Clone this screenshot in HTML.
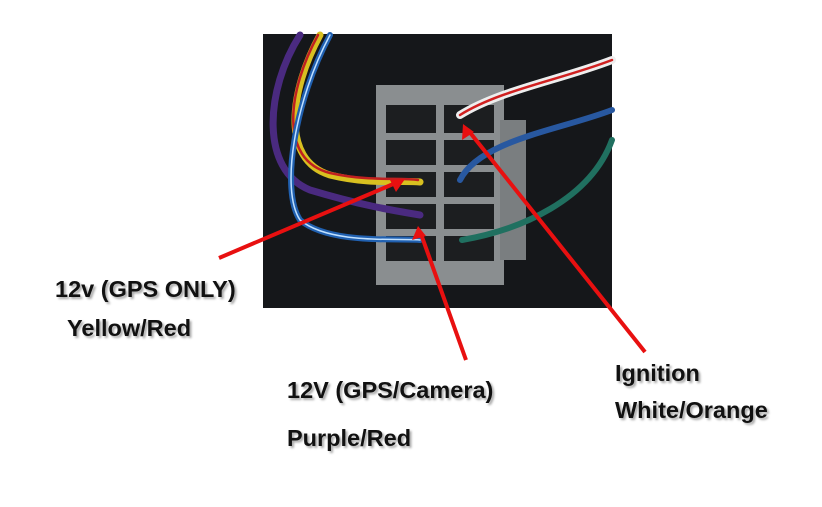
<!DOCTYPE html>
<html><head><style>
body{margin:0;width:822px;height:507px;background:#fff;position:relative;overflow:hidden;font-family:"Liberation Sans",sans-serif}
.t{position:absolute;font-weight:bold;font-size:23.5px;line-height:24px;color:#111;text-shadow:2px 2px 2px #aaa;white-space:nowrap}
</style></head><body>
<svg width="822" height="507" style="position:absolute;left:0;top:0">
<rect x="263" y="34" width="349" height="274" fill="#101214"/>
<rect x="263" y="34" width="349" height="274" fill="#1a1c20" opacity=".5"/>
<rect x="376" y="85" width="128" height="200" fill="#8a8e90"/>
<rect x="500" y="120" width="26" height="140" fill="#7a7e80"/>
<g fill="#1c1e20">
<rect x="386" y="105" width="50" height="28"/><rect x="444" y="105" width="50" height="28"/>
<rect x="386" y="140" width="50" height="25"/><rect x="444" y="140" width="50" height="25"/>
<rect x="386" y="172" width="50" height="25"/><rect x="444" y="172" width="50" height="25"/>
<rect x="386" y="204" width="50" height="25"/><rect x="444" y="204" width="50" height="25"/>
<rect x="386" y="236" width="50" height="25"/><rect x="444" y="236" width="50" height="25"/>
</g>
<g fill="none" stroke-linecap="round">
<path d="M320 35 C290 90 280 160 330 175 C370 185 400 180 420 182" stroke="#d8c020" stroke-width="7"/>
<path d="M318 35 C288 90 278 160 330 173 C370 182 400 177 418 180" stroke="#c02020" stroke-width="2.5"/>
<path d="M300 35 C265 90 260 170 310 190 C360 205 390 210 420 215" stroke="#4a2a80" stroke-width="7"/>
<path d="M330 35 C295 100 280 190 300 220 C330 245 400 238 420 240" stroke="#2060b0" stroke-width="6"/>
<path d="M330 35 C295 100 280 190 300 220 C330 245 400 238 420 240" stroke="#c0e0ff" stroke-width="1.5"/>
<path d="M612 60 C560 80 500 90 460 115" stroke="#eee" stroke-width="8"/>
<path d="M612 60 C560 80 500 90 460 115" stroke="#d02020" stroke-width="2.5"/>
<path d="M612 110 C560 130 480 140 460 180" stroke="#2858a0" stroke-width="6"/>
<path d="M612 140 C590 200 520 230 462 240" stroke="#207060" stroke-width="6"/>
</g>
<g stroke="#e81010" stroke-width="4" fill="#e81010">
<line x1="219" y1="258" x2="398" y2="182"/>
<line x1="466" y1="360" x2="421" y2="234"/>
<line x1="645" y1="352" x2="468" y2="130"/>
</g>
<polygon points="405,179 390,180 396,192" fill="#e81010"/>
<polygon points="418,226 412,240 426,236" fill="#e81010"/>
<polygon points="463,124 462,140 474,132" fill="#e81010"/>
</svg>
<div class="t" style="left:55px;top:277px">12v (GPS ONLY)</div>
<div class="t" style="left:67px;top:316px">Yellow/Red</div>
<div class="t" style="left:287px;top:378px">12V (GPS/Camera)</div>
<div class="t" style="left:287px;top:426px">Purple/Red</div>
<div class="t" style="left:615px;top:361px">Ignition</div>
<div class="t" style="left:615px;top:398px">White/Orange</div>
</body></html>
